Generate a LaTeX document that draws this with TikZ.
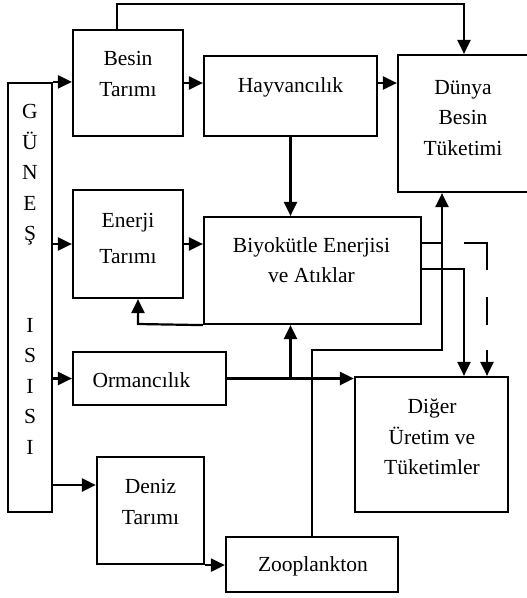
\documentclass[tikz,border=0pt]{standalone}
\usepackage{fontspec}
\setmainfont{Liberation Serif}
\usetikzlibrary{arrows.meta}
\begin{document}
\begin{tikzpicture}[x=1pt,y=-1pt,
  box/.style={draw, line width=2.2pt, inner sep=0pt},
  txt/.style={font=\fontsize{21.5}{30.5}\selectfont, align=center, inner sep=0pt},
  con/.style={line width=2.2pt},
  thick con/.style={line width=2.8pt},
  arr/.style={con, -{Triangle[length=14pt,width=13pt]}}]
\clip (0,0) rectangle (527,598);
\fill[white] (0,0) rectangle (527,598);
% boxes
\node[box, minimum width=44pt, minimum height=429pt] (gunes) at (30,297.5) {};
\node[box, minimum width=110pt, minimum height=106pt] (besin) at (128,83) {};
\node[box, minimum width=173pt, minimum height=80pt] (hayv) at (290.5,96) {};
\node[box, minimum width=134pt, minimum height=137pt] (dunya) at (465,123.5) {};
\node[box, minimum width=110pt, minimum height=108pt] (enerji) at (128,244) {};
\node[box, minimum width=217pt, minimum height=107pt] (bio) at (312.5,270.5) {};
\node[box, minimum width=153pt, minimum height=53pt] (orm) at (149.5,378.5) {};
\node[box, minimum width=153pt, minimum height=135pt] (diger) at (431.5,444.5) {};
\node[box, minimum width=107pt, minimum height=107pt] (deniz) at (150.5,510.5) {};
\node[box, minimum width=172pt, minimum height=55pt] (zoo) at (312,564.5) {};
% texts
\node[txt] (gunesL) at (30,279.5) {G\\Ü\\N\\E\\Ş\\\strut\\\strut\\I\\S\\I\\S\\I};
\node[txt] (besinL) at (128,74) {Besin\\Tarımı};
\node[txt] (hayvL) at (290.5,87) {Hayvancılık};
\node[txt] (dunyaL) at (463,118) {Dünya\\Besin\\Tüketimi};
\node[txt, font=\fontsize{21.5}{36}\selectfont] (enerjiL) at (128,238) {Enerji\\Tarımı};
\node[txt] (bioL) at (311.5,260) {Biyokütle Enerjisi\\ve Atıklar};
\node[txt] (ormL) at (141.5,380) {Ormancılık};
\node[txt] (digerL) at (432,437) {Diğer\\Üretim ve\\Tüketimler};
\node[txt] (denizL) at (150.5,502) {Deniz\\Tarımı};
\node[txt] (zooL) at (313,566) {Zooplankton};
% helper coordinates
\coordinate (t1) at (117,4);
\coordinate (t2) at (464,4);
\coordinate (lp) at (138,324);
\coordinate (z1) at (312,350);
\coordinate (z2) at (442,350);
\coordinate (r1) at (0,243);
\coordinate (r2) at (464,269);
\coordinate (r3) at (0,485);
\coordinate (d1) at (464,243);
\coordinate (d2) at (487,243);
% connectors
\draw[arr] (gunes.north east) -- (gunes.north east -| besin.west);
\draw[arr] (gunes.east |- enerji.west) -- (enerji.west);
\draw[arr] (gunes.east |- orm.west) -- (orm.west);
\draw[arr, thick con] (gunes.east |- r3) -- (deniz.west |- r3);
\draw[arr] (besin.east) -- (besin.east -| hayv.west);
\draw[arr] (hayv.east |- besin.east) -- (dunya.west |- besin.east);
\draw[arr] (besin.north -| t1) -- (t1) -- (t2) -- (t2 |- dunya.north);
\draw[arr] (hayv.south) -- (hayv.south |- bio.north);
\draw[arr] (enerji.east) -- (enerji.east -| bio.west);
\draw[arr] (bio.south west) -- (lp) -- (lp |- enerji.south);
\draw[arr, thick con] (orm.east) -- (orm.east -| diger.west);
\draw[arr] (orm.east -| hayv.south) -- (hayv.south |- bio.south);
\draw[arr] (zoo.north -| z1) -- (z1) -- (z2) -- (z2 |- dunya.south);
\draw[con] (bio.east |- r1) -- (z2 |- r1);
\draw[arr] (bio.east |- r2) -- (r2) -- (r2 |- diger.north);
\draw[arr, dash pattern=on 50pt off 27pt on 28pt off 25pt on 60pt] (d1) -- (d2) -- (d2 |- diger.north);
\draw[arr] (deniz.south east) -- (deniz.south east -| zoo.west);
\end{tikzpicture}
\end{document}
